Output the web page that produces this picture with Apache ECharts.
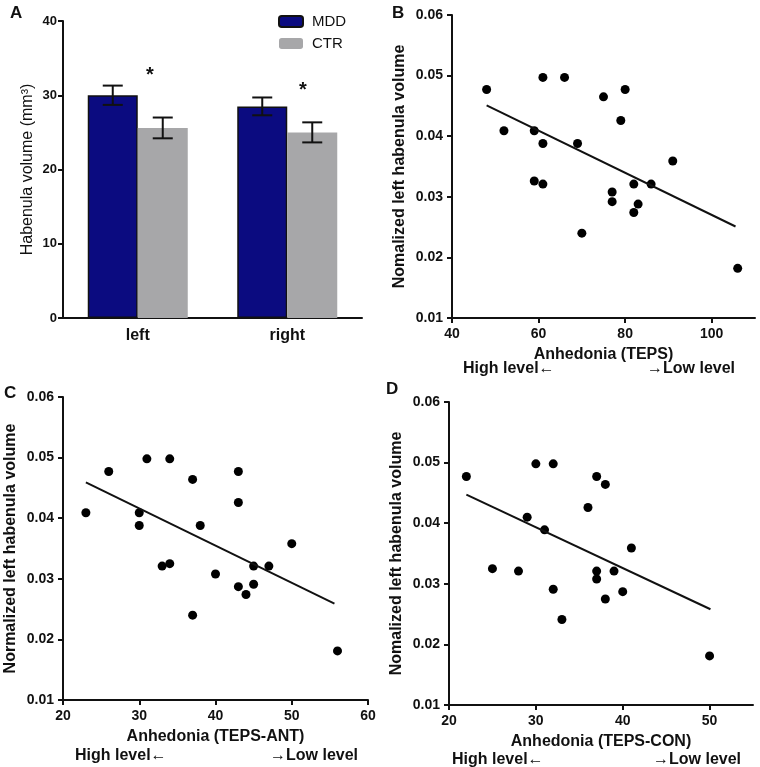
<!DOCTYPE html>
<html>
<head>
<meta charset="utf-8">
<title>Habenula volume and anhedonia</title>
<script src="https://cdn.jsdelivr.net/npm/echarts@6/dist/echarts.min.js"></script>
<style>
html,body{margin:0;padding:0;background:#fff;}
#main{width:760px;height:767px;}
</style>
</head>
<body>
<div id="main"></div>
<script>
// panel A - bars
var sides = ['left', 'right'];
var mddMean = [30.0, 28.5];
var mddErr = [1.3, 1.2];
var ctrMean = [25.6, 25.0];
var ctrErr = [1.4, 1.35];

// shared y values (normalized left habenula volume), one per subject
var volB = [0.0477, 0.0497, 0.0497, 0.0409, 0.0409, 0.0388, 0.0388, 0.0326, 0.0321, 0.0240, 0.0465,
            0.0477, 0.0426, 0.0308, 0.0292, 0.0321, 0.0321, 0.0274, 0.0288, 0.0359, 0.0182];
var tepsB = [48, 61, 66, 52, 59, 61, 69, 59, 61, 70, 75, 80, 79, 77, 77, 82, 86, 82, 83, 91, 106];
var fitB = [[48, 0.0451], [105.5, 0.0251]];

var tepsC = [23, 26, 31, 34, 37, 43, 43, 30, 30, 38, 33, 34, 40, 37, 43, 44, 45, 45, 47, 50, 56];
var volC = [0.0409, 0.0477, 0.0498, 0.0498, 0.0464, 0.0477, 0.0426, 0.0409, 0.0388, 0.0388, 0.0321,
            0.0325, 0.0308, 0.0240, 0.0287, 0.0274, 0.0321, 0.0291, 0.0321, 0.0358, 0.0181];
var fitC = [[23, 0.0459], [55.6, 0.0259]];

var tepsD = [22, 30, 32, 37, 38, 36, 29, 31, 25, 28, 32, 33, 37, 37, 39, 40, 38, 41, 50];
var volD = [0.0477, 0.0498, 0.0498, 0.0477, 0.0464, 0.0426, 0.0410, 0.0389, 0.0325, 0.0321, 0.0291,
            0.0241, 0.0321, 0.0308, 0.0321, 0.0287, 0.0275, 0.0359, 0.0181];
var fitD = [[22, 0.0447], [50.1, 0.0258]];

function pairs(xs, ys) {
  var out = [];
  for (var i = 0; i < xs.length; i++) out.push([xs[i], ys[i]]);
  return out;
}
function errData(means, errs) {
  var out = [];
  for (var i = 0; i < means.length; i++) out.push([i, means[i], errs[i]]);
  return out;
}

var FONT = '"Liberation Sans", Arial, Helvetica, sans-serif';
var axisLine = {show: true, lineStyle: {color: '#111', width: 2}};
var axisTick = {show: true, inside: false, length: 5, lineStyle: {color: '#111', width: 2}};
var tickLabel = {color: '#111', fontFamily: FONT, fontWeight: 'bold', fontSize: 14};
var nameStyle = {color: '#111', fontFamily: FONT, fontWeight: 'bold', fontSize: 16};

function errorBars(offset) {
  return function (params, api) {
    var c = api.value(0), m = api.value(1), e = api.value(2);
    var hi = api.coord([c, m + e]);
    var lo = api.coord([c, m - e]);
    var x = hi[0] + offset;
    var st = {stroke: '#111', lineWidth: 2};
    return {type: 'group', children: [
      {type: 'line', shape: {x1: x, y1: hi[1], x2: x, y2: lo[1]}, style: st},
      {type: 'line', shape: {x1: x - 10, y1: hi[1], x2: x + 10, y2: hi[1]}, style: st},
      {type: 'line', shape: {x1: x - 10, y1: lo[1], x2: x + 10, y2: lo[1]}, style: st}
    ]};
  };
}

function volAxis(idx, name) {
  return {
    type: 'value', gridIndex: idx, min: 0.01, max: 0.06, interval: 0.01,
    name: name, nameLocation: 'middle', nameGap: 44, nameTextStyle: nameStyle,
    axisLine: axisLine, axisTick: axisTick, splitLine: {show: false},
    axisLabel: Object.assign({margin: 9, formatter: function (v) { return v.toFixed(2); }}, tickLabel)
  };
}
function tepsAxis(idx, name, min, max, ticks) {
  return {
    type: 'value', gridIndex: idx, min: min, max: max, interval: 10,
    name: name, nameLocation: 'middle', nameGap: 29, nameTextStyle: nameStyle,
    axisLine: axisLine, splitLine: {show: false},
    axisTick: Object.assign({customValues: ticks}, axisTick),
    axisLabel: Object.assign({margin: 9, customValues: ticks}, tickLabel)
  };
}
function dots(idx, xs, ys) {
  return {type: 'scatter', xAxisIndex: idx, yAxisIndex: idx, data: pairs(xs, ys),
          symbolSize: 9, itemStyle: {color: '#000', opacity: 1}, silent: true};
}
function fitLine(idx, pts) {
  return {type: 'line', xAxisIndex: idx, yAxisIndex: idx, data: pts, showSymbol: false,
          lineStyle: {color: '#111', width: 2}, silent: true};
}
function txt(x, y, s, size, weight) {
  return {type: 'text', left: x, top: y, style: {text: s, fill: '#111', font: (weight || 'bold') + ' ' + size + 'px ' + FONT}};
}

var chart = echarts.init(document.getElementById('main'));
var option = {
  backgroundColor: '#fff',
  animation: false,
  textStyle: {fontFamily: FONT},
  legend: {
    data: ['MDD', 'CTR'], orient: 'vertical', left: 273, top: 9,
    itemWidth: 24, itemHeight: 11, itemGap: 7,
    textStyle: {color: '#111', fontSize: 15, fontFamily: FONT, padding: [0, 0, 0, 4]}
  },
  grid: [
    {left: 63, top: 21, width: 299, height: 297},
    {left: 452, top: 15, width: 303, height: 303},
    {left: 63, top: 397, width: 305, height: 303},
    {left: 449, top: 402, width: 304, height: 303}
  ],
  xAxis: [
    {type: 'category', gridIndex: 0, data: sides, axisLine: axisLine, axisTick: {show: false},
     axisLabel: {color: '#111', fontFamily: FONT, fontWeight: 'bold', fontSize: 16, margin: 10}},
    tepsAxis(1, 'Anhedonia (TEPS)', 40, 110, [40, 60, 80, 100]),
    tepsAxis(2, 'Anhedonia (TEPS-ANT)', 20, 60, [20, 30, 40, 50, 60]),
    tepsAxis(3, 'Anhedonia (TEPS-CON)', 20, 55, [20, 30, 40, 50])
  ],
  yAxis: [
    {type: 'value', gridIndex: 0, min: 0, max: 40, interval: 10,
     name: 'Habenula volume (mm³)', nameLocation: 'middle', nameGap: 27,
     nameTextStyle: {color: '#111', fontFamily: FONT, fontSize: 16},
     axisLine: axisLine, axisTick: axisTick, splitLine: {show: false},
     axisLabel: Object.assign({}, tickLabel, {fontSize: 13, margin: 6})},
    volAxis(1, 'Nomalized left habenula volume'),
    volAxis(2, 'Normalized left habenula volume'),
    volAxis(3, 'Nomalized left habenula volume')
  ],
  series: [
    {name: 'MDD', type: 'bar', xAxisIndex: 0, yAxisIndex: 0, data: mddMean, barWidth: 50, barGap: '0%',
     itemStyle: {color: '#0b0b80', borderColor: '#111', borderWidth: 1.5}},
    {name: 'CTR', type: 'bar', xAxisIndex: 0, yAxisIndex: 0, data: ctrMean, barWidth: 50, barGap: '0%',
     itemStyle: {color: '#a7a7a9'}},
    {type: 'custom', xAxisIndex: 0, yAxisIndex: 0, data: errData(mddMean, mddErr), renderItem: errorBars(-25), z: 5},
    {type: 'custom', xAxisIndex: 0, yAxisIndex: 0, data: errData(ctrMean, ctrErr), renderItem: errorBars(25), z: 5},
    dots(1, tepsB, volB), fitLine(1, fitB),
    dots(2, tepsC, volC), fitLine(2, fitC),
    dots(3, tepsD, volD), fitLine(3, fitD)
  ],
  graphic: [
    txt(10, 5, 'A', 17), txt(392, 5, 'B', 17), txt(4, 385, 'C', 17), txt(386, 381, 'D', 17),
    txt(146, 65, '*', 20), txt(299, 80, '*', 20),
    txt(463, 361, 'High level←', 16), txt(647, 361, '→Low level', 16),
    txt(75, 748, 'High level←', 16), txt(270, 748, '→Low level', 16),
    txt(452, 752, 'High level←', 16), txt(653, 752, '→Low level', 16)
  ]
};
chart.setOption(option);
</script>
</body>
</html>
